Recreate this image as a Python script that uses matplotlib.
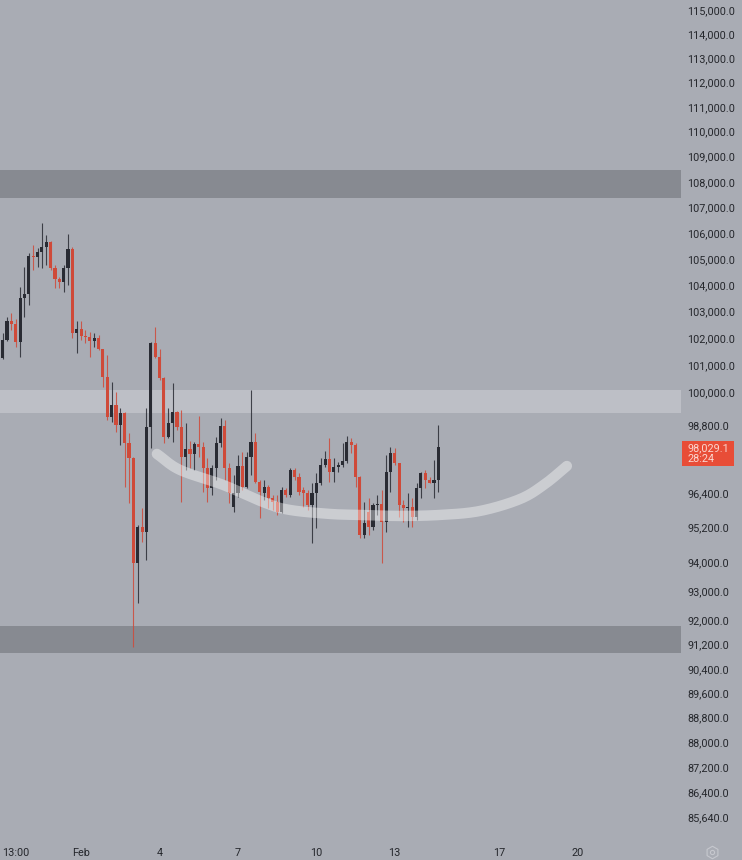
import numpy as np
import matplotlib
matplotlib.use('Agg')
import matplotlib.pyplot as plt
from matplotlib import patches
from matplotlib.ticker import FixedLocator, NullLocator, FuncFormatter

plt.rcParams['font.family'] = ['Roboto', 'DejaVu Sans']

# 4h candles, index 0 = first candle on screen
opens = [101270, 101940, 102650, 102520, 101870, 103510, 103670, 105120, 105070, 105260,
         105470, 105640, 104640, 104230, 104110, 104640, 105380, 102190, 102350, 102100,
         102050, 101900, 102010, 101590, 100560, 99120, 99540, 98820, 99270, 98160,
         97630, 93950, 95220, 95020, 98760, 101810, 101320, 100520, 98400, 98880,
         99300, 98760, 97660, 97950, 97780, 98140, 98040, 97270, 96560, 97270,
         98160, 98780, 97270, 95900, 96390, 97350, 96620, 97660, 98220, 96800,
         96400, 96620, 96210, 96090, 95740, 96500, 96330, 97210, 96970, 96500,
         96410, 95980, 96390, 96740, 97390, 97590, 97150, 97330, 97390, 97540,
         98220, 98100, 96970, 94930, 95740, 95220, 95980, 96000, 95390, 97150,
         97800, 97450, 95980, 95860, 95900, 95570, 96560, 97090, 96860, 96760,
         96860]
highs = [102200, 102800, 102950, 102720, 103940, 104700, 105220, 105540, 105410, 106380,
         105920, 105690, 104770, 104320, 104770, 105950, 105470, 102650, 102650, 102310,
         102250, 102200, 102120, 101620, 101380, 100400, 100030, 99420, 99290, 98520,
         97680, 95280, 95860, 99420, 101870, 102430, 101620, 100580, 99420, 100340,
         99320, 99360, 98880, 98250, 98220, 99150, 98220, 97630, 97390, 98400,
         99060, 99000, 97450, 97030, 97740, 97860, 97860, 100090, 98520, 96860,
         96860, 96680, 96330, 96330, 96620, 96560, 97270, 97270, 97090, 96620,
         96500, 96740, 97090, 97630, 97900, 98340, 97630, 97500, 98160, 98420,
         98340, 98160, 96990, 96090, 96210, 96030, 96330, 96500, 97740, 98040,
         97980, 97470, 96150, 96390, 96210, 96740, 97150, 97210, 96970, 97570,
         98820]
lows = [101230, 101900, 102310, 101690, 101320, 102810, 103250, 104580, 104700, 104640,
        104770, 104580, 103880, 103880, 103750, 104010, 102000, 101440, 101940, 101810,
        101320, 101680, 101560, 100210, 99000, 98940, 98580, 98100, 96620, 96030,
        91120, 92590, 94700, 94070, 97980, 101260, 100460, 98160, 98340, 98220,
        98640, 96090, 97210, 97270, 97210, 97680, 96440, 96090, 96330, 96860,
        98040, 96860, 96030, 95740, 96270, 96500, 96560, 97030, 96740, 95510,
        96150, 95860, 95800, 95630, 95680, 96270, 96270, 96860, 96330, 95920,
        95800, 94640, 95160, 96680, 97330, 96800, 96800, 97150, 97330, 97450,
        97800, 96620, 94820, 94820, 94930, 95100, 95630, 93950, 95040, 96440,
        97390, 95570, 95390, 95220, 95220, 95450, 96210, 96560, 96740, 96210,
        96440]
closes = [101940, 102650, 102520, 101870, 103510, 103670, 105120, 105070, 105260, 105470,
          105640, 104640, 104230, 104110, 104640, 105380, 102190, 102350, 102100, 102050,
          101900, 102010, 101590, 100560, 99120, 99540, 98820, 99270, 98160, 97630,
          93950, 95220, 95020, 98760, 101810, 101320, 100520, 98400, 98880, 99300,
          98760, 97660, 97950, 97780, 98140, 98040, 97270, 96560, 97270, 98160,
          98780, 97270, 96390, 96390, 97350, 96620, 97660, 98220, 96800, 96440,
          96620, 96210, 96090, 95740, 96500, 96330, 97210, 96970, 96440, 96410,
          95980, 96390, 96740, 97390, 97590, 97150, 97330, 97390, 97540, 98220,
          98100, 96970, 94930, 95340, 95220, 95980, 96000, 95390, 97150, 97800,
          97450, 95980, 95860, 95900, 95570, 96560, 97090, 96860, 96760, 96860,
          98029.1]

price_ticks = [115000, 114000, 113000, 112000, 111000, 110000, 109000, 108000, 107000,
               106000, 105000, 104000, 103000, 102000, 101000, 100000, 98800, 96400,
               95200, 94000, 93000, 92000, 91200, 90400, 89600, 88800, 88000, 87200,
               86400, 85640]
time_ticks = [3, 18, 36, 54, 72, 90, 114, 132]
time_labels = ['13:00', 'Feb', '4', '7', '10', '13', '17', '20']

# horizontal zones (low, high)
dark_zones = [(107380, 108470), (90930, 91830)]
light_zones = [(99270, 100090)]

# hand drawn rounded-bottom curve (control points)
curve_x = [35.4, 40.7, 50.6, 60.2, 65.9, 75.1, 82.0, 91.2, 100.4, 109.6, 118.8, 124.5, 129.5]
curve_y = [97780, 97210, 96680, 96050, 95800, 95660, 95625, 95590, 95625, 95765, 96185, 96715, 97350]

last_price = 98029.1
countdown = '28:24'

bg = '#a9acb4'
up_col = '#292b33'
down_col = '#cf4a39'
txt_col = '#25272c'


def smooth(xp, yp, n=12):
	# catmull-rom through the control points, done in log-price space
	px = np.array(xp, float)
	py = np.log(np.array(yp, float))
	px = np.concatenate([[2 * px[0] - px[1]], px, [2 * px[-1] - px[-2]]])
	py = np.concatenate([[2 * py[0] - py[1]], py, [2 * py[-1] - py[-2]]])
	ox, oy = [], []
	t = np.linspace(0, 1, n, endpoint=False)
	for i in range(1, len(px) - 2):
		for arr, out in ((px, ox), (py, oy)):
			p0, p1, p2, p3 = arr[i - 1], arr[i], arr[i + 1], arr[i + 2]
			out.extend(0.5 * (2 * p1 + (-p0 + p2) * t + (2 * p0 - 5 * p1 + 4 * p2 - p3) * t ** 2
				+ (-p0 + 3 * p1 - 3 * p2 + p3) * t ** 3))
	ox.append(px[-2])
	oy.append(py[-2])
	return np.array(ox), np.exp(oy)


W, H = 742, 860
fig = plt.figure(figsize=(W / 100, H / 100), dpi=100)
fig.patch.set_facecolor(bg)
ax = fig.add_axes([0, 28 / H, 681 / W, 832 / H])
ax.set_facecolor(bg)
ax.set_yscale('log')

for lo, hi in dark_zones:
	ax.axhspan(lo, hi, color='#878a91', lw=0, zorder=1)
for lo, hi in light_zones:
	ax.axhspan(lo, hi, color='#bdbfc6', lw=0, zorder=1)

xs = list(range(len(opens)))
cols = [up_col if c >= o else down_col for o, c in zip(opens, closes)]
bottoms = [min(o, c) for o, c in zip(opens, closes)]
heights = [max(abs(c - o), 20) for o, c in zip(opens, closes)]

ax.vlines(xs, lows, highs, colors=cols, lw=0.8, alpha=0.85, zorder=2)
ax.bar(xs, heights, bottom=bottoms, width=0.72, color=cols, lw=0, zorder=3)

sx, sy = smooth(curve_x, curve_y)
ax.plot(sx, sy, color='white', alpha=0.4, lw=7.5,
	solid_capstyle='round', solid_joinstyle='round', zorder=4)

ax.set_ylim(85165, 115420)
ax.set_xlim(-0.62, 155.7)

ax.yaxis.tick_right()
ax.yaxis.set_major_locator(FixedLocator(price_ticks))
ax.yaxis.set_minor_locator(NullLocator())
ax.yaxis.set_major_formatter(FuncFormatter(lambda v, p: '{:,.1f}'.format(v)))
ax.set_xticks(time_ticks)
ax.set_xticklabels(time_labels)
ax.tick_params(axis='y', length=0, pad=4.5, labelsize=7.8, labelcolor=txt_col)
ax.tick_params(axis='x', length=0, pad=11.5, labelsize=7.8, labelcolor=txt_col)
for s in ax.spines.values():
	s.set_visible(False)

# last price tag
tag = patches.Rectangle((682 / W, 1 - 466 / H), 52 / W, 25 / H, transform=fig.transFigure,
	color='#e84d37', lw=0)
fig.add_artist(tag)
fig.text(687 / W, 1 - 448 / H, '{:,.1f}'.format(last_price), color='#fbd6cf',
	fontsize=7.8, ha='left', va='center')
fig.text(687 / W, 1 - 459.5 / H, countdown, color='#fbd6cf', fontsize=7.8,
	ha='left', va='center')

# settings icon
fig.add_artist(plt.Line2D([712 / W], [1 - 852 / H], marker='h', ms=9, mfc='none',
	mec='#c6c8ce', mew=0.8, transform=fig.transFigure))
fig.add_artist(plt.Line2D([712 / W], [1 - 852 / H], marker='o', ms=3, mfc='none',
	mec='#c6c8ce', mew=0.8, transform=fig.transFigure))

fig.savefig('out.png', dpi=100, facecolor=bg)
